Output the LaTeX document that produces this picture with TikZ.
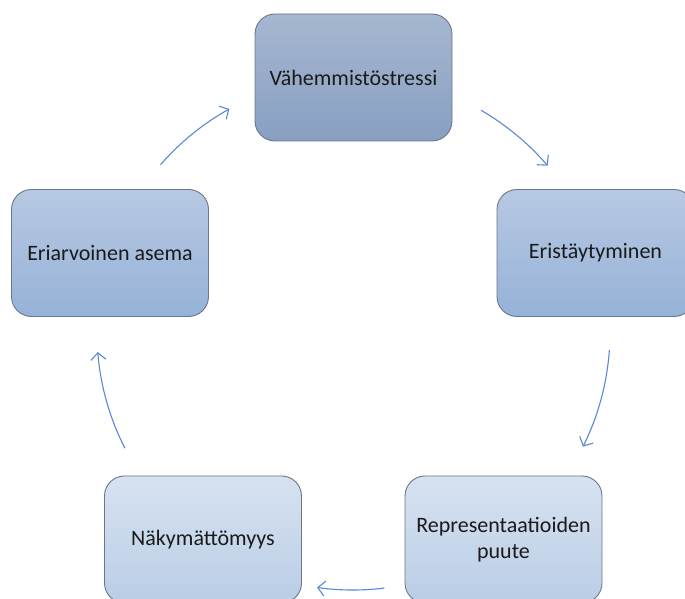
\documentclass[tikz,border=0pt]{standalone}
\usepackage{fontspec}
\setmainfont{Carlito}
\usetikzlibrary{arrows.meta,calc}
\definecolor{edgegray}{HTML}{69778A}
\definecolor{arrowblue}{HTML}{5B88D6}
\definecolor{txt}{HTML}{1A1A1A}
\definecolor{darktop}{HTML}{A6B7D0}
\definecolor{darkbot}{HTML}{889FC2}
\definecolor{midtop}{HTML}{B7C9E2}
\definecolor{midbot}{HTML}{96B2D8}
\definecolor{lighttop}{HTML}{D7E2F0}
\definecolor{lightbot}{HTML}{BACDE6}
\begin{document}
\begin{tikzpicture}[x=1pt,y=1pt,
  box/.style={draw=edgegray,line width=0.9pt,rounded corners=20pt,minimum width=197pt,minimum height=127pt,
    text=txt,font=\fontsize{22}{26}\selectfont,align=center,inner sep=0pt},
  darkbox/.style={box,top color=darktop,bottom color=darkbot},
  midbox/.style={box,top color=midtop,bottom color=midbot},
  lightbox/.style={box,top color=lighttop,bottom color=lightbot},
  arr/.style={draw=arrowblue,line width=1.1pt,-{Straight Barb[length=7pt,width=15pt,line width=1.1pt]}}
]
\useasboundingbox (0,0) rectangle (685,599);
\clip (0,0) rectangle (685,599);
\fill[white] (0,0) rectangle (685,599);
\node[darkbox] (vah) at (353.5,521.5) {Vähemmistöstressi};
\node[midbox] (eri) at (595.5,346) {Eristäytyminen};
\node[lightbox] (rep) at (503.5,59.5) {Representaatioiden\\puute};
\node[lightbox] (nak) at (203,59.5) {Näkymättömyys};
\node[midbox] (ase) at (110,346) {Eriarvoinen asema};
\coordinate (C) at (353,267);
\coordinate (s1) at ($(C)+(139:255)$);
\coordinate (s2) at ($(C)+(60:256)$);
\coordinate (s3) at ($(C)+(-4:257)$);
\coordinate (s4) at ($(C)+(-83:258)$);
\coordinate (s5) at ($(C)+(207:256)$);
\draw[arr] (s1) arc[start angle=139,end angle=119,radius=255];
\draw[arr] (s2) arc[start angle=60,end angle=40.5,radius=256];
\draw[arr] (s3) arc[start angle=-4,end angle=-26.5,radius=257];
\draw[arr] (s4) arc[start angle=-83,end angle=-98,radius=258];
\draw[arr] (s5) arc[start angle=207,end angle=184.5,radius=256];
\end{tikzpicture}
\end{document}
